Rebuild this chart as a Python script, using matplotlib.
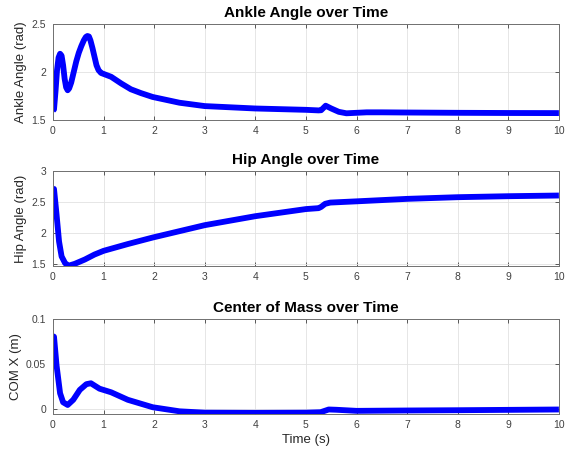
import matplotlib
matplotlib.use("Agg")
import matplotlib.pyplot as plt

plt.rcParams['font.family'] = ['Liberation Sans', 'DejaVu Sans']

# Ankle angle data
t_ankle = [0, 0.02, 0.05, 0.08, 0.11, 0.14, 0.17, 0.2, 0.23, 0.26, 0.29, 0.32, 0.36, 0.41,
           0.46, 0.51, 0.56, 0.61, 0.65, 0.68, 0.71, 0.74, 0.78, 0.82, 0.86, 0.9, 0.95, 1.0,
           1.15, 1.35, 1.54, 1.74, 1.97, 2.5, 3, 4, 5,
           5.25, 5.3, 5.39, 5.5, 5.65, 5.8, 6.0, 6.2, 6.5, 7, 8, 9, 10]
ankle = [1.60, 1.61, 1.80, 2.02, 2.15, 2.19, 2.17, 2.07, 1.93, 1.84, 1.81, 1.83, 1.89, 2.00,
         2.11, 2.20, 2.27, 2.33, 2.365, 2.375, 2.37, 2.33, 2.25, 2.16, 2.07, 2.02, 1.99, 1.98,
         1.95, 1.88, 1.82, 1.78, 1.74, 1.68, 1.645, 1.62, 1.606,
         1.600, 1.602, 1.649, 1.62, 1.585, 1.570, 1.575, 1.58, 1.58, 1.578, 1.575, 1.573, 1.572]

# Hip angle data
t_hip = [0, 0.02, 0.07, 0.12, 0.17, 0.24, 0.31, 0.43, 0.63, 0.82, 1.0, 1.48, 1.97, 3, 4, 5,
         5.25, 5.3, 5.38, 5.48, 6, 7, 8, 9, 10]
hip = [2.72, 2.71, 2.30, 1.86, 1.62, 1.51, 1.47, 1.50, 1.57, 1.65, 1.71, 1.82, 1.925, 2.125,
       2.27, 2.385, 2.40, 2.42, 2.47, 2.49, 2.51, 2.55, 2.577, 2.593, 2.604]

# Center of mass data
t_com = [0, 0.02, 0.07, 0.14, 0.2, 0.29, 0.4, 0.53, 0.66, 0.75, 0.82, 0.92, 1.15, 1.48, 1.97,
         2.5, 3, 4, 5, 5.29, 5.45, 5.6, 6, 7, 8, 9, 10]
com = [0.081, 0.0805, 0.049, 0.018, 0.008, 0.005, 0.0107, 0.0217, 0.028, 0.029, 0.0265, 0.023,
       0.019, 0.0107, 0.0025, -0.002, -0.0035, -0.0037, -0.0035, -0.003, 0.0, -0.0003, -0.0015,
       -0.0011, -0.0008, -0.0004, 0.0]

x_ticks = list(range(0, 11))

panels = [
    dict(t=t_ankle, y=ankle, title='Ankle Angle over Time', ylabel='Ankle Angle (rad)',
         ylim=(1.5, 2.5), yticks=[1.5, 2, 2.5], ylabels=['1.5', '2', '2.5'],
         rect=[0.0928, 0.7339, 0.886, 0.2129]),
    dict(t=t_hip, y=hip, title='Hip Angle over Time', ylabel='Hip Angle (rad)',
         ylim=(1.465, 3), yticks=[1.5, 2, 2.5, 3], ylabels=['1.5', '2', '2.5', '3'],
         rect=[0.0928, 0.4102, 0.886, 0.2106]),
    dict(t=t_com, y=com, title='Center of Mass over Time', ylabel='COM X (m)',
         ylim=(-0.005, 0.1), yticks=[0, 0.05, 0.1], ylabels=['0', '0.05', '0.1'],
         rect=[0.0928, 0.0820, 0.886, 0.2106]),
]

fig = plt.figure(figsize=(5.71, 4.51), dpi=100)
for i, p in enumerate(panels):
    ax = fig.add_axes(p['rect'])
    ax.plot(p['t'], p['y'], color='#0000ff', lw=4.2, solid_joinstyle='round',
            solid_capstyle='butt')
    ax.set_xlim(0, 10)
    ax.set_ylim(*p['ylim'])
    ax.set_xticks(x_ticks)
    ax.set_xticklabels([str(v) for v in x_ticks])
    ax.set_yticks(p['yticks'])
    ax.set_yticklabels(p['ylabels'])
    ax.grid(True, color='#e2e2e2', lw=0.6)
    ax.set_axisbelow(True)
    ax.tick_params(direction='in', length=3, width=0.6, top=True, right=True,
                   labelsize=7.5, colors='#404040')
    ax.tick_params(axis='y', pad=5)
    ax.tick_params(axis='x', pad=4)
    for s in ax.spines.values():
        s.set_color('#707070')
        s.set_linewidth(0.7)
    ax.set_title(p['title'], fontsize=11, fontweight='bold', pad=5)
    ax.set_ylabel(p['ylabel'], fontsize=9.5, color='#262626', labelpad=3)
    if i == 2:
        ax.set_xlabel('Time (s)', fontsize=9.5, color='#262626', labelpad=3)

fig.savefig('out.png', dpi=100)
